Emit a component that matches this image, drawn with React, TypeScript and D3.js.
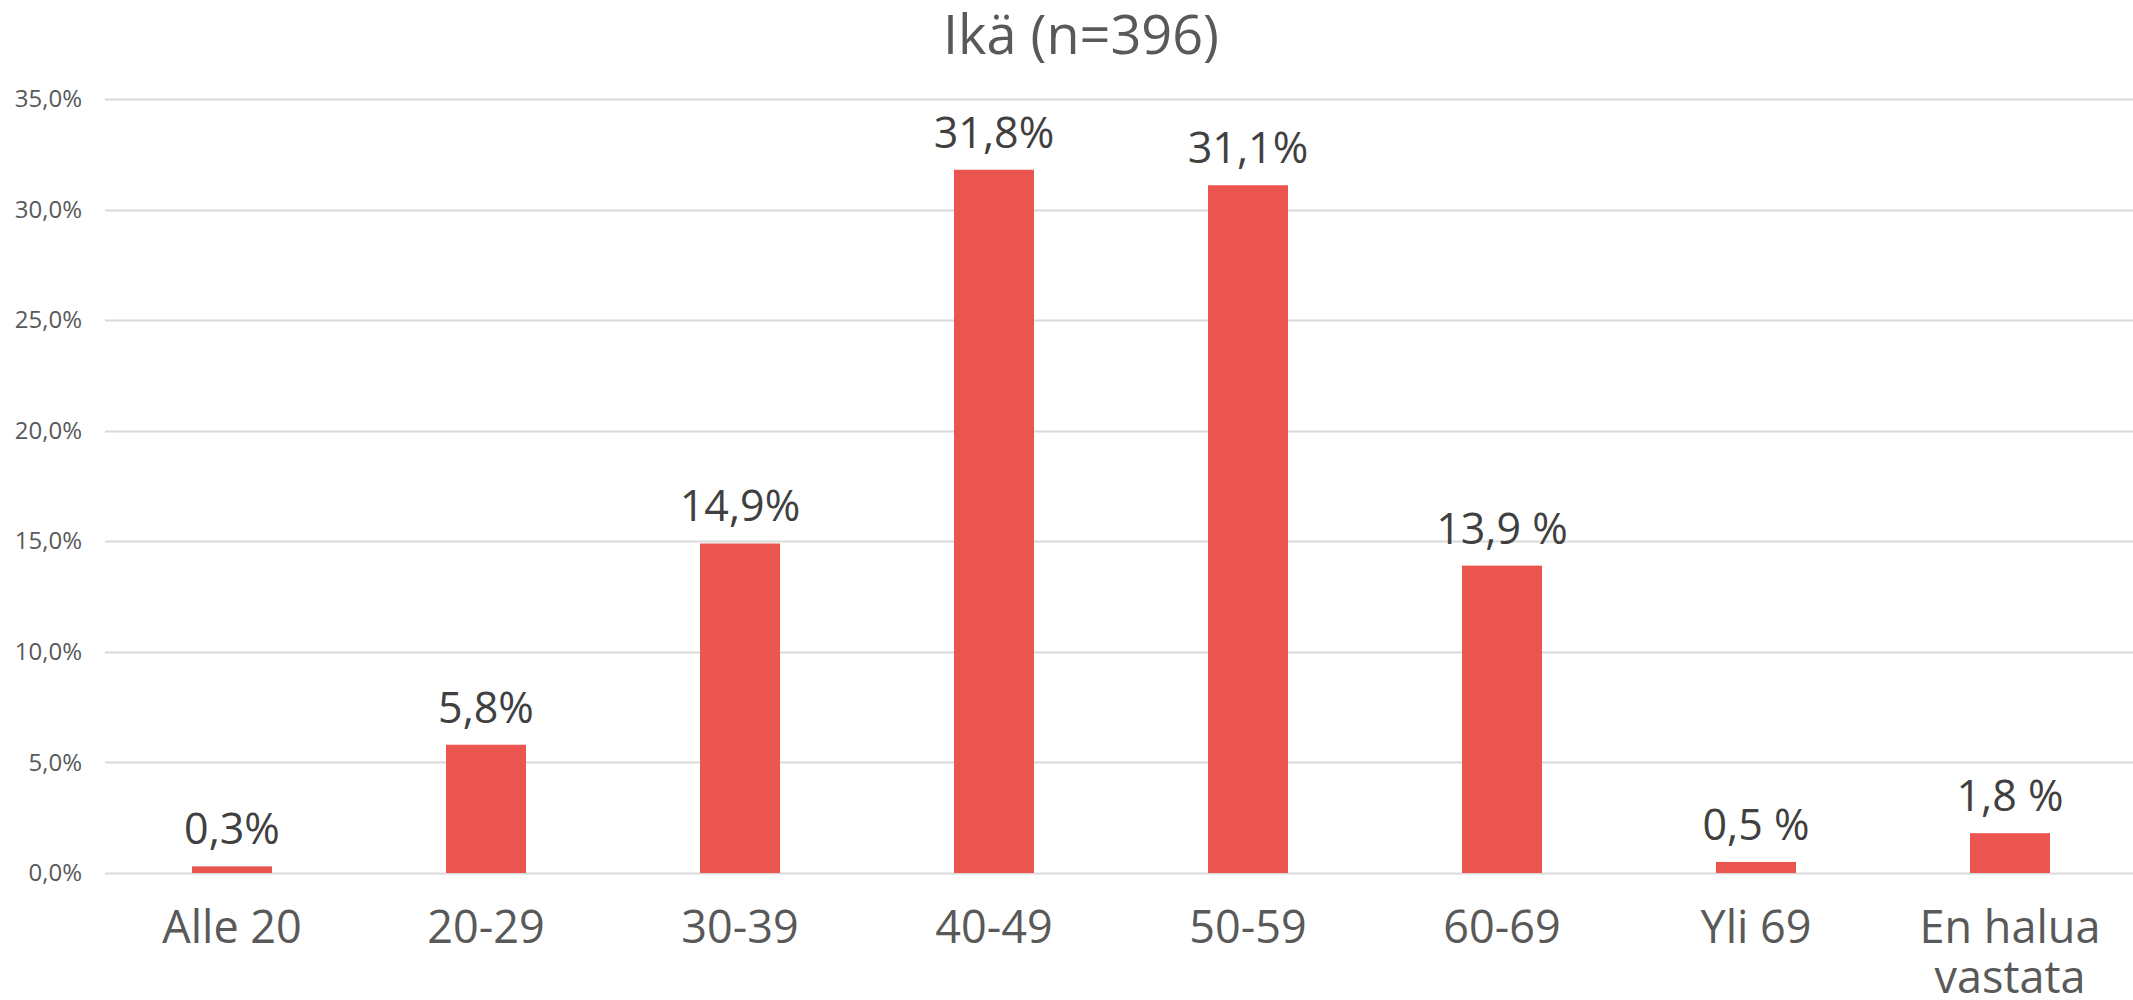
import * as d3 from "d3";
import React, { useEffect, useRef } from "react";

const categories = ["Alle 20", "20-29", "30-39", "40-49", "50-59", "60-69", "Yli 69", "En halua\nvastata"];
const values = [0.3, 5.8, 14.9, 31.8, 31.1, 13.9, 0.5, 1.8];
const valueLabels = ["0,3%", "5,8%", "14,9%", "31,8%", "31,1%", "13,9 %", "0,5 %", "1,8 %"];
const yTicks = [0, 5, 10, 15, 20, 25, 30, 35];
const title = "Ikä (n=396)";

const width = 2133;
const height = 1000;
const font = "'Open Sans', sans-serif";

const fi = d3.formatLocale({ decimal: ",", thousands: " ", grouping: [3], currency: ["", "€"] });
const fmt = fi.format(".1f");

function chart(svgEl) {
  const svg = d3.select(svgEl);
  svg.selectAll("*").remove();

  const x = d3.scaleBand().domain(categories).range([105, 2137]).paddingInner(0.685).paddingOuter(0.3425);
  const y = d3.scaleLinear().domain([0, 35]).range([873, 99]);

  svg.append("rect").attr("width", width).attr("height", height).attr("fill", "#fff");

  // grid
  svg
    .append("g")
    .selectAll("line")
    .data(yTicks)
    .join("line")
    .attr("x1", 105)
    .attr("x2", width)
    .attr("y1", (d) => Math.round(y(d)) + 0.5)
    .attr("y2", (d) => Math.round(y(d)) + 0.5)
    .attr("stroke", "#d9d9d9")
    .attr("stroke-width", 2);

  // y axis labels
  const yAxis = svg
    .append("g")
    .attr("transform", "translate(105,0)")
    .call(d3.axisLeft(y).tickValues(yTicks).tickSize(0).tickPadding(23).tickFormat((d) => fmt(d) + "%"));
  yAxis.select(".domain").remove();
  yAxis.selectAll("text").attr("font-family", font).attr("font-size", 24).attr("fill", "#595959");

  // bars
  svg
    .append("g")
    .selectAll("rect")
    .data(values)
    .join("rect")
    .attr("x", (d, i) => x(categories[i]))
    .attr("width", x.bandwidth())
    .attr("y", (d) => y(d))
    .attr("height", (d) => y(0) - y(d))
    .attr("fill", "#EB5550");

  // value labels
  svg
    .append("g")
    .selectAll("text")
    .data(values)
    .join("text")
    .attr("x", (d, i) => x(categories[i]) + x.bandwidth() / 2)
    .attr("y", (d) => y(d) - 22)
    .attr("text-anchor", "middle")
    .attr("font-family", font)
    .attr("font-size", 43)
    .attr("fill", "#404040")
    .text((d, i) => valueLabels[i]);

  // category labels
  const cat = svg
    .append("g")
    .selectAll("text")
    .data(categories)
    .join("text")
    .attr("text-anchor", "middle")
    .attr("font-family", font)
    .attr("font-size", 45)
    .attr("fill", "#595959");
  cat.each(function (d) {
    const cx = x(d) + x.bandwidth() / 2;
    d3.select(this)
      .selectAll("tspan")
      .data(d.split("\n"))
      .join("tspan")
      .attr("x", cx)
      .attr("y", (t, j) => 943 + j * 50)
      .text((t) => t);
  });

  // title
  svg
    .append("text")
    .attr("x", 1081)
    .attr("y", 54)
    .attr("text-anchor", "middle")
    .attr("font-family", font)
    .attr("font-size", 54)
    .attr("fill", "#595959")
    .text(title);
}

export default function App() {
  const ref = useRef(null);

  useEffect(() => {
    document.body.style.margin = "0";
    if (ref.current) chart(ref.current);
  }, []);

  return <svg ref={ref} width={width} height={height} style={{ display: "block" }}></svg>;
}
